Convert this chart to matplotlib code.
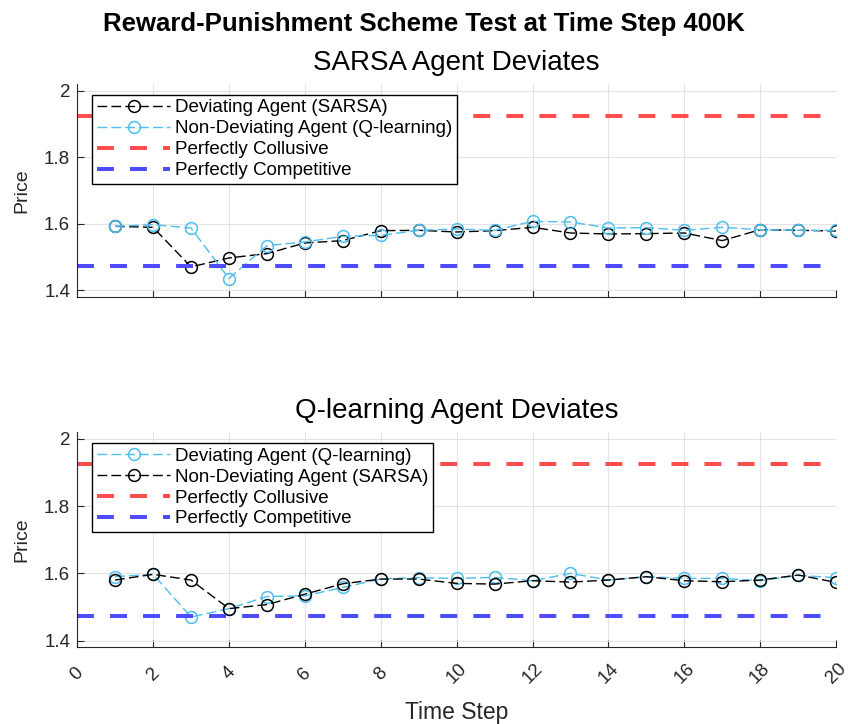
import numpy as np
import matplotlib
matplotlib.use("Agg")
import matplotlib.pyplot as plt

plt.rcParams['font.family'] = ['Liberation Sans', 'DejaVu Sans']

# time steps
t = np.arange(1, 21)

# top panel: SARSA deviates
sarsa_dev = [1.592, 1.589, 1.470, 1.497, 1.510, 1.542, 1.549, 1.579, 1.580, 1.575,
             1.579, 1.589, 1.572, 1.569, 1.570, 1.572, 1.549, 1.582, 1.580, 1.578]
qlearn_nondev = [1.592, 1.597, 1.587, 1.435, 1.534, 1.545, 1.562, 1.565, 1.580, 1.584,
                 1.580, 1.607, 1.605, 1.587, 1.588, 1.580, 1.589, 1.582, 1.580, 1.580]

# bottom panel: Q-learning deviates
qlearn_dev = [1.590, 1.597, 1.470, 1.495, 1.531, 1.533, 1.558, 1.583, 1.587, 1.585,
              1.588, 1.578, 1.600, 1.580, 1.590, 1.585, 1.585, 1.578, 1.594, 1.587]
sarsa_nondev = [1.580, 1.597, 1.580, 1.495, 1.507, 1.538, 1.569, 1.583, 1.583, 1.570,
                1.568, 1.578, 1.574, 1.580, 1.590, 1.578, 1.575, 1.580, 1.595, 1.573]

p_collusive = 1.925
p_competitive = 1.4729

cyan = '#4DBEEE'
red = '#FF4D4D'
blue = '#4D4DFF'
dark = '#262626'

fig = plt.figure(figsize=(8.48, 7.24), dpi=100)
ax1 = fig.add_axes([0.091, 0.590, 0.895, 0.294])
ax2 = fig.add_axes([0.091, 0.106, 0.895, 0.297])


def style(ax, title):
    ax.set_xlim(0, 20)
    ax.set_ylim(1.38, 2.02)
    ax.set_xticks(np.arange(0, 21, 2))
    ax.set_yticks([1.4, 1.6, 1.8, 2.0])
    ax.set_yticklabels(['1.4', '1.6', '1.8', '2'])
    ax.grid(True, color='#E3E3E3', linewidth=0.8)
    ax.set_axisbelow(True)
    for s in ['top', 'right']:
        ax.spines[s].set_visible(False)
    for s in ['left', 'bottom']:
        ax.spines[s].set_color(dark)
    ax.tick_params(direction='in', length=5, labelsize=13.5, colors=dark, pad=5)
    ax.set_ylabel('Price', fontsize=14, color=dark, labelpad=10)
    ax.set_title(title, fontsize=20, color='black', pad=10)


def hlines(ax):
    ax.axhline(p_collusive, color=red, lw=2.9, dashes=(4.2, 4.0), label='Perfectly Collusive')
    ax.axhline(p_competitive, color=blue, lw=2.9, dashes=(4.2, 4.0), label='Perfectly Competitive')


# top panel
ax1.plot(t, sarsa_dev, '--o', color='black', mfc='none', ms=8.5, mew=1.1, lw=1,
         dashes=(7, 3), label='Deviating Agent (SARSA)')
ax1.plot(t, qlearn_nondev, '--o', color=cyan, mfc='none', ms=8.5, mew=1.1, lw=1,
         dashes=(7, 3), label='Non-Deviating Agent (Q-learning)')
hlines(ax1)
style(ax1, 'SARSA Agent Deviates')
ax1.tick_params(labelbottom=False)

# bottom panel
ax2.plot(t, qlearn_dev, '--o', color=cyan, mfc='none', ms=8.5, mew=1.1, lw=1,
         dashes=(7, 3), label='Deviating Agent (Q-learning)')
ax2.plot(t, sarsa_nondev, '--o', color='black', mfc='none', ms=8.5, mew=1.1, lw=1,
         dashes=(7, 3), label='Non-Deviating Agent (SARSA)')
hlines(ax2)
style(ax2, 'Q-learning Agent Deviates')
ax2.tick_params(axis='x', pad=19)
ax2.set_xlabel('Time Step', fontsize=16.5, color=dark, labelpad=10)
for lbl in ax2.get_xticklabels():
    lbl.set_rotation(45)
    lbl.set_ha('center')
    lbl.set_va('center')

for ax in (ax1, ax2):
    leg = ax.legend(loc='upper left', bbox_to_anchor=(0.02, 0.95), fontsize=13.5,
                    frameon=True, fancybox=False, framealpha=1, edgecolor='black',
                    borderpad=0.25, borderaxespad=0, labelspacing=0.2,
                    handlelength=3.9, handletextpad=0.25)
    leg.get_frame().set_linewidth(1.0)

fig.suptitle('Reward-Punishment Scheme Test at Time Step 400K', fontsize=18.5,
             fontweight='bold', y=0.984)

fig.savefig('out.png', dpi=100)
